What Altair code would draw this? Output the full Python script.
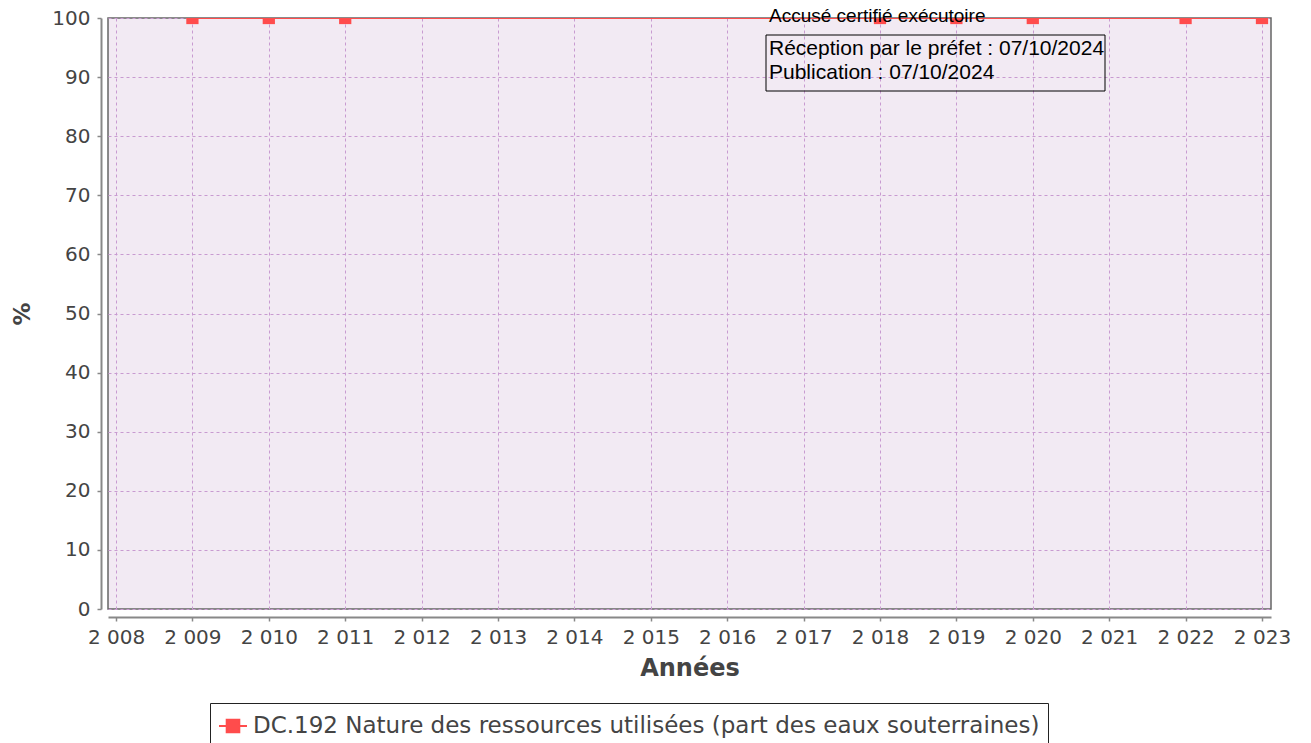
import altair as alt
import pandas as pd

years = [2009, 2010, 2011, 2018, 2019, 2020, 2022, 2023]
values = [100, 100, 100, 100, 100, 100, 100, 100]
series_name = "DC.192 Nature des ressources utilisées (part des eaux souterraines)"
x_ticks = list(range(2008, 2024))
y_ticks = [0, 10, 20, 30, 40, 50, 60, 70, 80, 90, 100]
ann_title_text = "Accusé certifié exécutoire"
ann_lines = ["Réception par le préfet : 07/10/2024", "Publication : 07/10/2024"]

df = pd.DataFrame({"Année": years, "Valeur": values, "Série": [series_name] * len(years)})
one = alt.Data(values=[{"k": 1}])

RED = "#FF4C4C"
GRID = "#C89BD0"

x_enc = alt.X(
    "Année:Q",
    scale=alt.Scale(domain=[2007.895, 2023.118], nice=False, zero=False),
    axis=alt.Axis(
        values=x_ticks,
        labelExpr="substring(toString(datum.value),0,1) + ' ' + substring(toString(datum.value),1)",
        title="Années",
        offset=8,
        tickSize=4,
        labelPadding=6,
        titlePadding=9,
        titleFontSize=24,
        grid=True,
    ),
)
y_enc = alt.Y(
    "Valeur:Q",
    scale=alt.Scale(domain=[0, 100], nice=False),
    axis=alt.Axis(
        values=y_ticks,
        title="%",
        offset=7,
        tickSize=4,
        labelPadding=7,
        titlePadding=17,
        titleFontSize=23,
        grid=True,
    ),
)

color_enc = alt.Color(
    "Série:N",
    scale=alt.Scale(range=[RED]),
    legend=alt.Legend(
        title=None,
        orient="none",
        legendX=102,
        legendY=685,
        strokeColor="#222",
        padding=8,
        symbolType="M-1,0L1,0M-0.45,-0.45L0.45,-0.45L0.45,0.45L-0.45,0.45Z",
        symbolSize=784,
        symbolStrokeWidth=2,
        symbolFillColor=RED,
        symbolStrokeColor=RED,
        labelFont="DejaVu Sans",
        labelFontSize=23,
        labelColor="#444",
        labelOffset=5,
        labelLimit=1000,
    ),
)

line = alt.Chart(df).mark_line(strokeWidth=2, clip=True).encode(x=x_enc, y=y_enc, color=color_enc)
points = alt.Chart(df).mark_square(size=150, opacity=1, filled=True, clip=True, color=RED).encode(
    x="Année:Q", y="Valeur:Q"
)

ann_title = alt.Chart(one).mark_text(
    text=ann_title_text, font="Liberation Sans", fontSize=19, color="black",
    align="left", baseline="alphabetic",
).encode(x=alt.value(661), y=alt.value(4))

ann_box = alt.Chart(one).mark_rect(fill=None, stroke="black", strokeWidth=1).encode(
    x=alt.value(658), x2=alt.value(997), y=alt.value(17), y2=alt.value(73)
)
ann_line1 = alt.Chart(one).mark_text(
    text=ann_lines[0], font="Liberation Sans", fontSize=21, color="black",
    align="left", baseline="middle",
).encode(x=alt.value(661), y=alt.value(31))
ann_line2 = alt.Chart(one).mark_text(
    text=ann_lines[1], font="Liberation Sans", fontSize=21, color="black",
    align="left", baseline="middle",
).encode(x=alt.value(661), y=alt.value(55))

chart = (
    alt.layer(line, points, ann_box, ann_title, ann_line1, ann_line2)
    .properties(
        width=1163,
        height=591,
        autosize=alt.AutoSizeParams(type="none"),
        padding={"left": 100, "top": 10, "right": 32, "bottom": 134},
    )
    .configure_view(fill="#F2EAF3", stroke="#666", strokeWidth=1.5)
    .configure_axis(
        labelFont="DejaVu Sans",
        labelFontSize=20,
        labelColor="#444",
        titleFont="DejaVu Sans",
        titleFontWeight="bold",
        titleColor="#444",
        domainColor="#888",
        domainWidth=2,
        tickColor="#888",
        tickWidth=1.5,
        gridColor=GRID,
        gridDash=[3, 3],
        gridWidth=1,
        gridOpacity=1,
    )
)

chart.save("out.html", embed_options={"renderer": "svg", "actions": False})
